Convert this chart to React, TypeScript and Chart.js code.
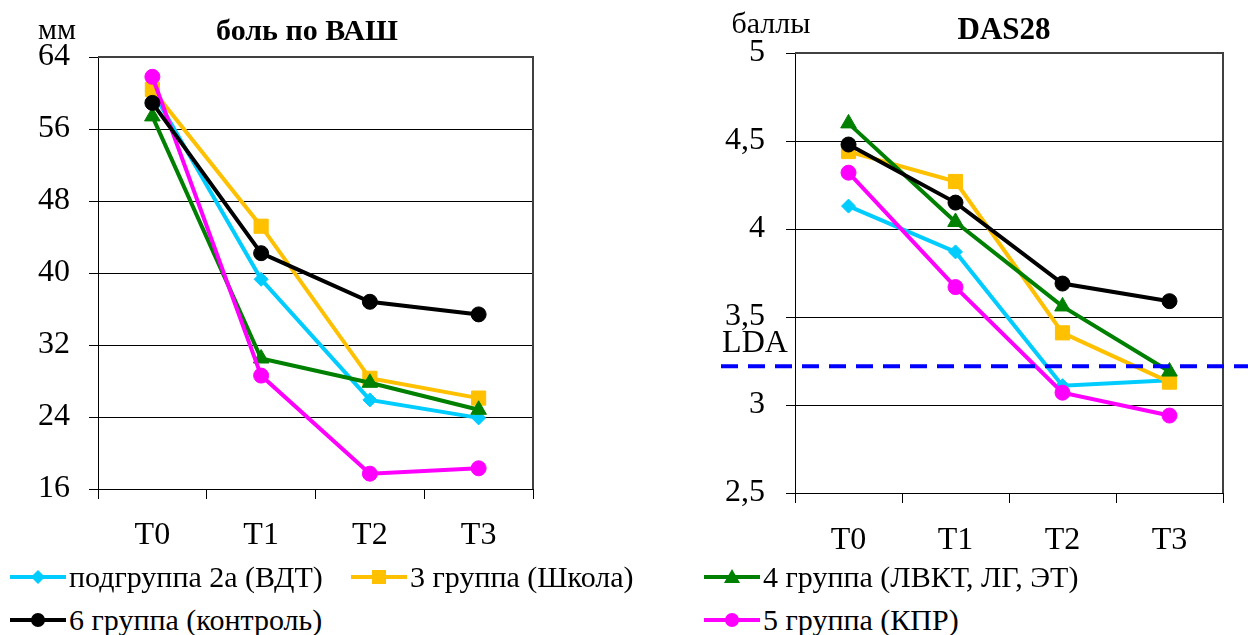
import React, { useEffect, useRef } from "react";
import { Chart, registerables } from "chart.js";

Chart.register(...registerables);

// ---------- data ----------
const categories = ["T0", "T1", "T2", "T3"];
const seriesNames = [
  "подгруппа 2а (ВДТ)",
  "3 группа (Школа)",
  "4 группа (ЛВКТ, ЛГ, ЭТ)",
  "5 группа (КПР)",
  "6 группа (контроль)",
];

// боль по ВАШ, мм
const vas2a = [60.2, 39.3, 25.9, 23.9];
const vas3 = [60.4, 45.2, 28.3, 26.1];
const vas4 = [57.4, 30.5, 27.8, 24.8];
const vas5 = [61.8, 28.6, 17.7, 18.3];
const vas6 = [58.9, 42.2, 36.8, 35.4];
const vasTicks = [16, 24, 32, 40, 48, 56, 64];

// DAS28, баллы
const das2a = [4.13, 3.87, 3.11, 3.14];
const das3 = [4.44, 4.27, 3.41, 3.13];
const das4 = [4.6, 4.04, 3.56, 3.19];
const das5 = [4.32, 3.67, 3.07, 2.94];
const das6 = [4.48, 4.15, 3.69, 3.59];
const dasTicks = [2.5, 3, 3.5, 4, 4.5, 5];
const ldaValue = 3.22;

// ---------- styles ----------
const FONT = "'Liberation Serif', 'Times New Roman', serif";
const colors = ["#00CCFF", "#FFC000", "#008000", "#FF00FF", "#000000"];
const pointStyles = ["rectRot", "rect", "triangle", "circle", "circle"];
const pointRadii = [7, 10, 9, 7.5, 7.5];
const drawOrder = [5, 4, 3, 2, 1];

type TextItem = { text: string; x: number; y: number; font: string };

function makeDecor(texts: TextItem[], lda: null | { value: number; x0: number }) {
  return {
    id: "decor",
    afterDatasetsDraw(chart: any) {
      const { ctx, chartArea } = chart;
      ctx.save();
      ctx.strokeStyle = "#404040";
      ctx.lineWidth = 2;
      ctx.beginPath();
      ctx.moveTo(chartArea.left, chartArea.top);
      ctx.lineTo(chartArea.right, chartArea.top);
      ctx.lineTo(chartArea.right, chartArea.bottom);
      ctx.stroke();
      if (lda) {
        const y = chart.scales.y.getPixelForValue(lda.value);
        ctx.strokeStyle = "#0000FF";
        ctx.lineWidth = 4;
        ctx.setLineDash([17, 10]);
        ctx.beginPath();
        ctx.moveTo(lda.x0, y);
        ctx.lineTo(chart.width, y);
        ctx.stroke();
        ctx.setLineDash([]);
      }
      ctx.fillStyle = "#000";
      ctx.textAlign = "center";
      ctx.textBaseline = "middle";
      for (const t of texts) {
        ctx.font = t.font;
        ctx.fillText(t.text, t.x, t.y);
      }
      ctx.restore();
    },
  };
}

type PanelProps = {
  left: number;
  width: number;
  height: number;
  series: number[][];
  ticks: number[];
  yAxisW: number;
  xAxisH: number;
  padTop: number;
  padRight: number;
  yPad: number;
  xPad: number;
  decimalComma: boolean;
  texts: TextItem[];
  lda: null | { value: number; x0: number };
};

function Panel(p: PanelProps) {
  const ref = useRef<HTMLCanvasElement | null>(null);
  useEffect(() => {
    if (!ref.current) return;
    const step = p.ticks[1] - p.ticks[0];
    const chart = new Chart(ref.current, {
      type: "line",
      data: {
        labels: categories,
        datasets: p.series.map((d, i) => ({
          label: seriesNames[i],
          data: d,
          borderColor: colors[i],
          backgroundColor: colors[i],
          pointBackgroundColor: colors[i],
          pointBorderColor: colors[i],
          pointBorderWidth: 1,
          borderWidth: 4,
          pointStyle: pointStyles[i] as any,
          pointRadius: pointRadii[i],
          tension: 0,
          order: drawOrder[i],
        })),
      },
      options: {
        responsive: false,
        animation: false,
        devicePixelRatio: 1,
        layout: { padding: { top: p.padTop, right: p.padRight, left: 0, bottom: 0 } },
        plugins: { legend: { display: false }, tooltip: { enabled: false }, title: { display: false } },
        scales: {
          x: {
            type: "category",
            offset: true,
            grid: {
              display: true,
              drawOnChartArea: false,
              drawTicks: true,
              tickLength: 10,
              color: "#000",
              lineWidth: 1,
              offset: true,
            },
            border: { display: true, color: "#000", width: 1 },
            ticks: { font: { family: FONT, size: 32 }, color: "#000", padding: p.xPad, maxRotation: 0 },
            afterFit: (s: any) => {
              s.height = p.xAxisH;
            },
          },
          y: {
            min: p.ticks[0],
            max: p.ticks[p.ticks.length - 1],
            afterBuildTicks: (s: any) => {
              s.ticks = p.ticks.map((v) => ({ value: v }));
            },
            ticks: {
              stepSize: step,
              font: { family: FONT, size: 32 },
              color: "#000",
              padding: p.yPad,
              callback: (v: any) => (p.decimalComma ? String(v).replace(".", ",") : String(v)),
            },
            grid: { color: "#000", lineWidth: 1, tickLength: 9, drawTicks: true },
            border: { display: true, color: "#000", width: 1 },
            afterFit: (s: any) => {
              s.width = p.yAxisW;
            },
          },
        },
      },
      plugins: [makeDecor(p.texts, p.lda)],
    } as any);
    return () => chart.destroy();
  }, []);
  return (
    <canvas
      ref={ref}
      width={p.width}
      height={p.height}
      style={{ position: "absolute", left: p.left, top: 0, width: p.width, height: p.height }}
    />
  );
}

function LegendMarker({ i }: { i: number }) {
  const c = colors[i];
  const s = pointStyles[i];
  let marker: React.ReactNode = null;
  if (s === "circle") marker = <circle cx={28} cy={10} r={7} fill={c} />;
  else if (s === "rect") marker = <rect x={21} y={3} width={14} height={14} fill={c} />;
  else if (s === "triangle") marker = <polygon points="28,2 36,16 20,16" fill={c} />;
  else marker = <polygon points="28,3 35,10 28,17 21,10" fill={c} />;
  return (
    <svg width={56} height={20} style={{ position: "absolute", left: 0, top: -10 }}>
      <line x1={0} y1={10} x2={56} y2={10} stroke={c} strokeWidth={4} />
      {marker}
    </svg>
  );
}

const legendPos = [
  { x: 10, y: 577 },
  { x: 351, y: 577 },
  { x: 704, y: 577 },
  { x: 704, y: 620 },
  { x: 10, y: 620 },
];

export default function App() {
  return (
    <div
      style={{
        position: "absolute",
        left: 0,
        top: 0,
        width: 1248,
        height: 635,
        background: "#fff",
        overflow: "hidden",
      }}
    >
      <Panel
        left={0}
        width={560}
        height={560}
        series={[vas2a, vas3, vas4, vas5, vas6]}
        ticks={vasTicks}
        yAxisW={98}
        xAxisH={71}
        padTop={57}
        padRight={27}
        yPad={19}
        xPad={17}
        decimalComma={false}
        texts={[
          { text: "мм", x: 57, y: 31, font: `30px ${FONT}` },
          { text: "боль по ВАШ", x: 307, y: 32, font: `bold 30px ${FONT}` },
        ]}
        lda={null}
      />
      <Panel
        left={600}
        width={648}
        height={560}
        series={[das2a, das3, das4, das5, das6]}
        ticks={dasTicks}
        yAxisW={195}
        xAxisH={67}
        padTop={53}
        padRight={25}
        yPad={21}
        xPad={18}
        decimalComma={true}
        texts={[
          { text: "баллы", x: 171, y: 25, font: `30px ${FONT}` },
          { text: "DAS28", x: 404, y: 31, font: `bold 31px ${FONT}` },
          { text: "LDA", x: 155, y: 344, font: `32px ${FONT}` },
        ]}
        lda={{ value: ldaValue, x0: 121 }}
      />
      {legendPos.map((pos, i) => (
        <div key={i} style={{ position: "absolute", left: pos.x, top: pos.y, height: 0 }}>
          <LegendMarker i={i} />
          <span
            style={{
              position: "absolute",
              left: 59,
              top: -18,
              fontFamily: FONT,
              fontSize: 30,
              lineHeight: "36px",
              whiteSpace: "nowrap",
              color: "#000",
            }}
          >
            {seriesNames[i]}
          </span>
        </div>
      ))}
    </div>
  );
}
